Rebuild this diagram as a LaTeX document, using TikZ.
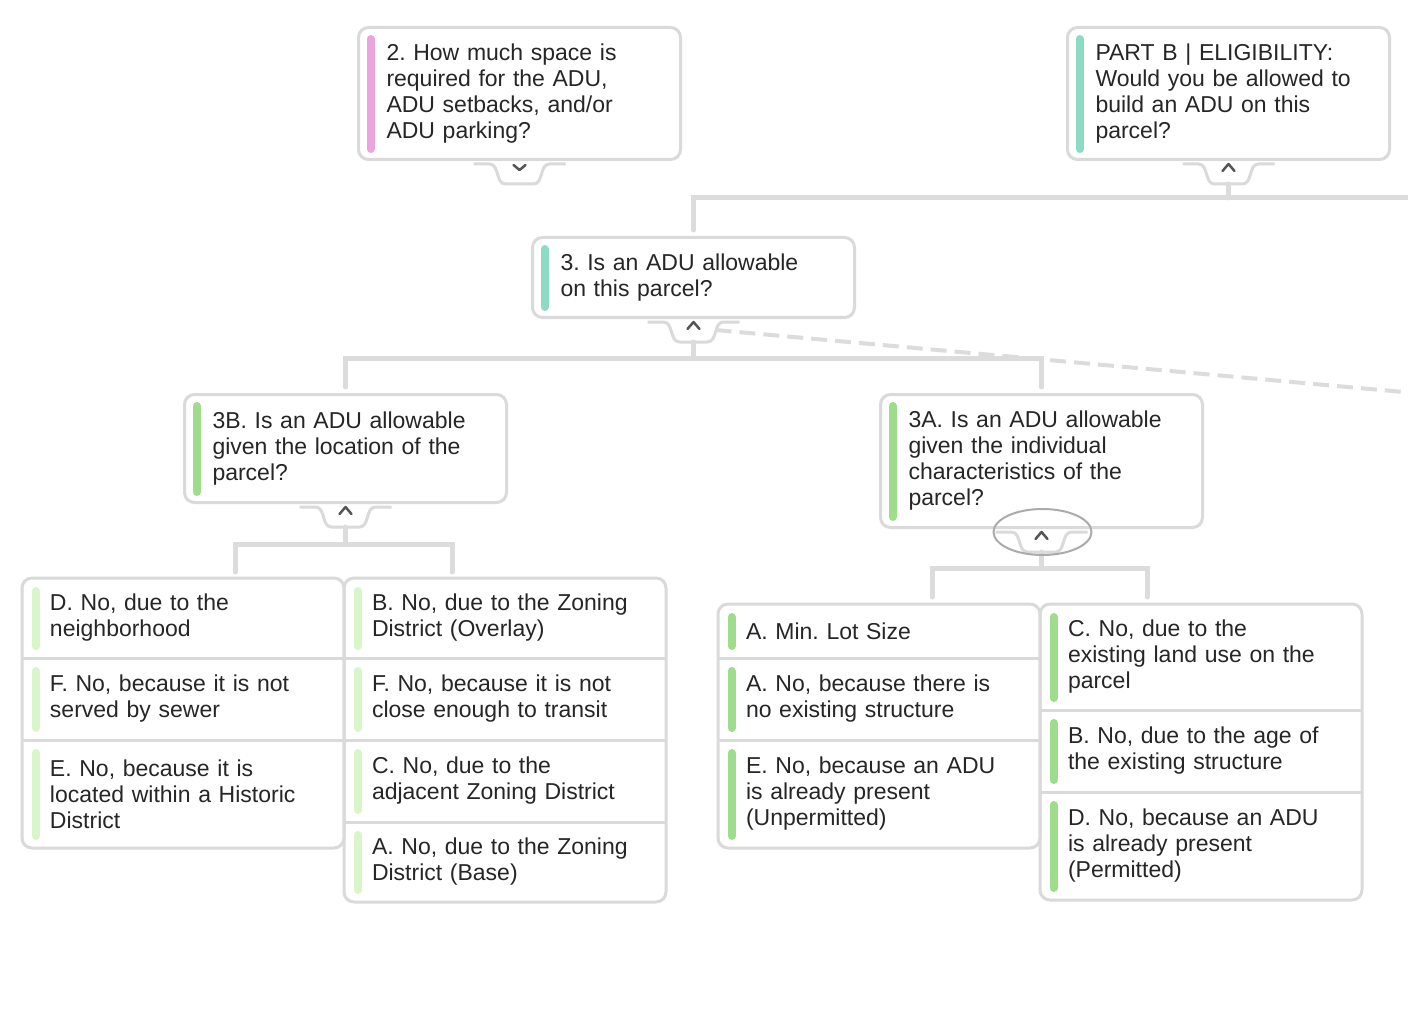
\documentclass[tikz,border=0pt]{standalone}
\usepackage{fontspec}
\setmainfont{Liberation Sans}
\usetikzlibrary{positioning, calc}

\definecolor{ink}{HTML}{262626}
\definecolor{cedge}{HTML}{DADADA}
\definecolor{cwire}{HTML}{DCDCDC}
\definecolor{qpink}{HTML}{EDA3DD}
\definecolor{qteal}{HTML}{8DDBC4}
\definecolor{qgreen}{HTML}{9FDC8B}
\definecolor{qlight}{HTML}{D9F5CA}
\definecolor{cchev}{HTML}{555555}
\definecolor{cring}{HTML}{ABABAB}

\tikzset{
	qfont/.style={font=\fontsize{23}{26}\selectfont\frenchspacing, text=ink},
	qbox/.style={qfont, draw=cedge, line width=3pt, rounded corners=10pt, fill=white, anchor=north west,
		inner xsep=0pt, inner ysep=0pt, text width=322pt, align=left, execute at begin node={\leftskip=28pt\relax}},
	row/.style={qfont, inner xsep=0pt, inner ysep=0pt, outer sep=0pt, text width=322pt, align=left,
		execute at begin node={\leftskip=28pt\relax}},
	rule/.style={draw=cedge, line width=3pt},
	frame/.style={draw=cedge, line width=3pt, rounded corners=10pt},
	wire/.style={draw=cwire, line width=5pt, line cap=round},
	dashwire/.style={draw=cwire, line width=4pt, dash pattern=on 16pt off 8pt},
	tabline/.style={draw=cedge, line width=3pt},
	chevron/.style={draw=cchev, line width=2.5pt, line cap=round, line join=round},
	accent/.style={draw=#1, line width=8pt, line cap=round},
	pics/knob/.style={code={
		\draw[tabline] (-46,3) -- (-30,3) .. controls (-20,3) and (-24,23) .. (-14,23)
			-- (14,23) .. controls (24,23) and (20,3) .. (30,3) -- (46,3);
		\draw[chevron] (-6,#1) -- (0,13-#1) -- (6,#1);
		\coordinate (-stem) at (0,23);
		\coordinate (-tail) at (22,11);
	}}
}

\begin{document}
\begin{tikzpicture}[x=1pt, y=-1pt]
	\useasboundingbox (0,0) rectangle (1408,1024);
	\clip (0,0) rectangle (1408,1024);
	\fill[white] (0,0) rectangle (1408,1024);

	\node[qbox, minimum height=132pt] (q2) at (357,26) {2. How much space is\\required for the ADU,\\ADU setbacks, and/or\\ADU parking?};
	\node[qbox, minimum height=132pt] (pb) at (1066,26) {PART B | ELIGIBILITY:\\Would you be allowed to\\build an ADU on this\\parcel?};
	\node[qbox, minimum height=80pt] (q3) at (531,236) {3. Is an ADU allowable\\on this parcel?};
	\node[qbox, minimum height=108pt] (q3b) at (183,393) {3B. Is an ADU allowable\\given the location of the\\parcel?};
	\node[qbox, minimum height=133pt] (q3a) at (879,393) {3A. Is an ADU allowable\\given the individual\\characteristics of the\\parcel?};

	\node[row, minimum height=80pt, anchor=north west] (loc-d) at (22,578) {D. No, due to the\\neighborhood};
	\node[row, minimum height=82pt, below=0pt of loc-d] (loc-f1) {F. No, because it is not\\served by sewer};
	\node[row, minimum height=108pt, below=0pt of loc-f1] (loc-e) {E. No, because it is\\located within a Historic\\District};
	\node[row, minimum height=80pt, anchor=north west] (loc-b) at (344,578) {B. No, due to the Zoning\\District (Overlay)};
	\node[row, minimum height=82pt, below=0pt of loc-b] (loc-f2) {F. No, because it is not\\close enough to transit};
	\node[row, minimum height=82pt, below=0pt of loc-f2] (loc-c) {C. No, due to the\\adjacent Zoning District};
	\node[row, minimum height=80pt, below=0pt of loc-c] (loc-a) {A. No, due to the Zoning\\District (Base)};

	\node[row, minimum height=54pt, anchor=north west] (ind-a1) at (718,604) {A. Min. Lot Size};
	\node[row, minimum height=82pt, below=0pt of ind-a1] (ind-a2) {A. No, because there is\\no existing structure};
	\node[row, minimum height=108pt, below=0pt of ind-a2] (ind-e) {E. No, because an ADU\\is already present\\(Unpermitted)};
	\node[row, minimum height=106pt, anchor=north west] (ind-c) at (1040,604) {C. No, due to the\\existing land use on the\\parcel};
	\node[row, minimum height=82pt, below=0pt of ind-c] (ind-b) {B. No, due to the age of\\the existing structure};
	\node[row, minimum height=108pt, below=0pt of ind-b] (ind-d) {D. No, because an ADU\\is already present\\(Permitted)};

	\foreach \n in {loc-f1, loc-e, loc-f2, loc-c, loc-a, ind-a2, ind-e, ind-b, ind-d}
		\draw[rule] (\n.north west) -- (\n.north east);
	\draw[frame] (loc-d.north west) rectangle (loc-e.south east);
	\draw[frame] (loc-b.north west) rectangle (loc-a.south east);
	\draw[frame] (ind-a1.north west) rectangle (ind-e.south east);
	\draw[frame] (ind-c.north west) rectangle (ind-d.south east);

	\foreach \n/\c in {q2/qpink, pb/qteal, q3/qteal, q3b/qgreen, q3a/qgreen,
		loc-d/qlight, loc-f1/qlight, loc-e/qlight, loc-b/qlight, loc-f2/qlight, loc-c/qlight, loc-a/qlight,
		ind-a1/qgreen, ind-a2/qgreen, ind-e/qgreen, ind-c/qgreen, ind-b/qgreen, ind-d/qgreen}
		\draw[accent=\c] ([shift={(13.5,13)}]\n.north west) -- ([shift={(13.5,-12)}]\n.south west);

	\pic (k2) at (q2.south) {knob=4};
	\pic (kb) at (pb.south) {knob=10};
	\pic (k3) at (q3.south) {knob=10};
	\pic (k3b) at (q3b.south) {knob=10};
	\pic (k3a) at (q3a.south) {knob=10};

	\coordinate (offR) at (1420,198);
	\coordinate (offD) at (1420,393.5);
	\coordinate (j3) at ($(k3-stem)+(0,16)$);
	\coordinate (j3b) at ($(k3b-stem)+(0,17)$);
	\coordinate (j3a) at ($(k3a-stem)+(0,16)$);
	\coordinate (lb1) at (235,572);
	\coordinate (lb2) at (452,572);
	\coordinate (rb1) at (932,597);
	\coordinate (rb2) at (1147,597);

	\draw[wire] ($(q3.north)+(0,-6)$) |- (offR);
	\draw[wire] (kb-stem) -- (kb-stem |- offR);
	\draw[wire] (k3-stem) -- (j3);
	\draw[wire] ($(q3b.north)+(0,-6)$) |- (j3) -| ($(q3a.north)+(0,-6)$);
	\draw[wire] (k3b-stem) -- (j3b);
	\draw[wire] (lb1) |- (j3b) -| (lb2);
	\draw[wire] (k3a-stem) -- (j3a);
	\draw[wire] (rb1) |- (j3a) -| (rb2);
	\draw[dashwire] (k3-tail) -- (offD);

	\draw[cring, line width=2pt] ($(q3a.south)+(1,3)$) ellipse [x radius=49, y radius=23];
\end{tikzpicture}
\end{document}
